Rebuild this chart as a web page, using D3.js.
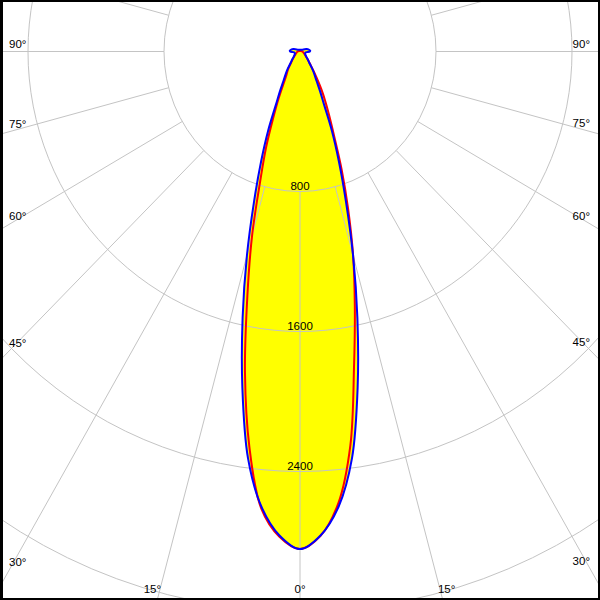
<!DOCTYPE html>
<html>
<head>
<meta charset="utf-8">
<script src="https://cdn.jsdelivr.net/npm/d3@7"></script>
<style>
  html, body { margin: 0; padding: 0; background: #fff; }
  svg { display: block; }
  text { font-family: "Liberation Sans", Arial, sans-serif; font-size: 11.5px; fill: #000; }
</style>
</head>
<body>
<svg id="chart" width="600" height="600"></svg>
<script>
// ---- data (cd values vs. angle from nadir, degrees) ----
const angles = [0, 2.5, 5, 7.5, 10, 12.5, 15, 17.5, 20, 22.5, 25, 27.5, 30, 35, 40, 45, 50, 60, 70, 80, 85, 90, 95, 100, 110, 135, 180];
// C90-C270 plane (blue), symmetric
const blueValues = [2843, 2768, 2610, 2344, 1952, 1560, 1206, 899, 670, 490, 335, 255, 195, 135, 86, 65, 50, 36, 32, 33, 40, 58, 60, 55, 40, 15, 10];
// C0-C180 plane (red): left half (C180) and right half (C0)
const redLeftValues  = [2843, 2775, 2620, 2280, 1864, 1430, 1089, 780, 583, 412, 300, 215, 165, 120, 80, 60, 45, 30, 22, 18, 16, 15, 12, 10, 7, 5, 3];
const redRightValues = [2843, 2770, 2590, 2270, 1830, 1490, 1207, 940, 715, 528, 410, 325, 255, 145, 90, 65, 48, 32, 23, 18, 16, 15, 12, 10, 7, 5, 3];
const ringValues = [800, 1600, 2400, 3200, 4000];
const ringLabels = ["800", "1600", "2400"];
const gridAngles = d3.range(-180, 181, 15);
const angleLabels = [0, 15, 30, 45, 60, 75, 90];

// ---- layout ----
const W = 600, H = 600;
const cx = 300, cy = 51.5;
const sx = d3.scaleLinear().domain([0, 800]).range([0, 136]);
const sy = d3.scaleLinear().domain([0, 800]).range([0, 140]);
const rad = d => d * Math.PI / 180;
const px = (a, v) => cx + sx(v * Math.sin(rad(a)));
const py = (a, v) => cy + sy(v * Math.cos(rad(a)));

const svg = d3.select("#chart");
svg.append("rect").attr("width", W).attr("height", H).attr("fill", "#fff");

function curvePoints(leftVals, rightVals) {
  const pts = [];
  for (let i = angles.length - 1; i >= 1; i--) pts.push([px(-angles[i], leftVals[i]), py(-angles[i], leftVals[i])]);
  for (let i = 0; i < angles.length - 1; i++) pts.push([px(angles[i], rightVals[i]), py(angles[i], rightVals[i])]);
  return pts;
}
const line = d3.line().curve(d3.curveCatmullRomClosed.alpha(0.5));
const redPts = curvePoints(redLeftValues, redRightValues);
const bluePts = curvePoints(blueValues, blueValues);

// fills
svg.append("path").attr("d", line(redPts)).attr("fill", "#ffff00");
svg.append("path").attr("d", line(bluePts)).attr("fill", "#ffff00");

// grid
const grid = svg.append("g").attr("fill", "none").attr("stroke", "#c4c4c4").attr("stroke-width", 1);
grid.selectAll("ellipse").data(ringValues).join("ellipse")
  .attr("cx", cx).attr("cy", cy)
  .attr("rx", d => sx(d)).attr("ry", d => sy(d));
grid.selectAll("line").data(gridAngles).join("line")
  .attr("x1", d => px(d, ringValues[0])).attr("y1", d => py(d, ringValues[0]))
  .attr("x2", d => px(d, 6000)).attr("y2", d => py(d, 6000));

// curves
svg.append("path").attr("d", line(redPts)).attr("fill", "none").attr("stroke", "#ff0000").attr("stroke-width", 2);
svg.append("path").attr("d", line(bluePts)).attr("fill", "none").attr("stroke", "#0000ff").attr("stroke-width", 2);

// ring labels
svg.selectAll("text.ring").data(ringLabels).join("text").attr("class", "ring")
  .attr("x", cx).attr("y", (d, i) => py(0, ringValues[i]) - 2)
  .attr("text-anchor", "middle").text(d => d);

// angle labels
const inL = 9, inR = 590, inB = 593;
angleLabels.forEach(a => {
  [-1, 1].forEach(s => {
    if (a === 0 && s === 1) return;
    const dx = s * Math.sin(rad(a)) * sx(1), dy = Math.cos(rad(a)) * sy(1);
    const tx = Math.abs(dx) > 1e-9 ? (s < 0 ? (cx - inL) : (inR - cx)) / Math.abs(dx) : Infinity;
    const ty = dy > 1e-9 ? (inB - cy) / dy : Infinity;
    let x, y, anchor;
    if (a === 0) { x = cx; y = inB; anchor = "middle"; }
    else if (tx < ty) { x = s < 0 ? inL : inR; y = cy + tx * dy - 4; anchor = s < 0 ? "start" : "end"; }
    else { x = cx + ty * dx + (s < 0 ? 2 : -3); y = inB; anchor = s < 0 ? "end" : "start"; }
    svg.append("text").attr("x", x).attr("y", y).attr("text-anchor", anchor).text(a + "°");
  });
});

// frame
svg.append("rect").attr("x", 0).attr("y", 0).attr("width", W).attr("height", H)
  .attr("fill", "none").attr("stroke", "#000").attr("stroke-width", 4);
svg.append("line").attr("x1", 1.5).attr("y1", 0).attr("x2", 1.5).attr("y2", H)
  .attr("stroke", "#000").attr("stroke-width", 3);
</script>
</body>
</html>
